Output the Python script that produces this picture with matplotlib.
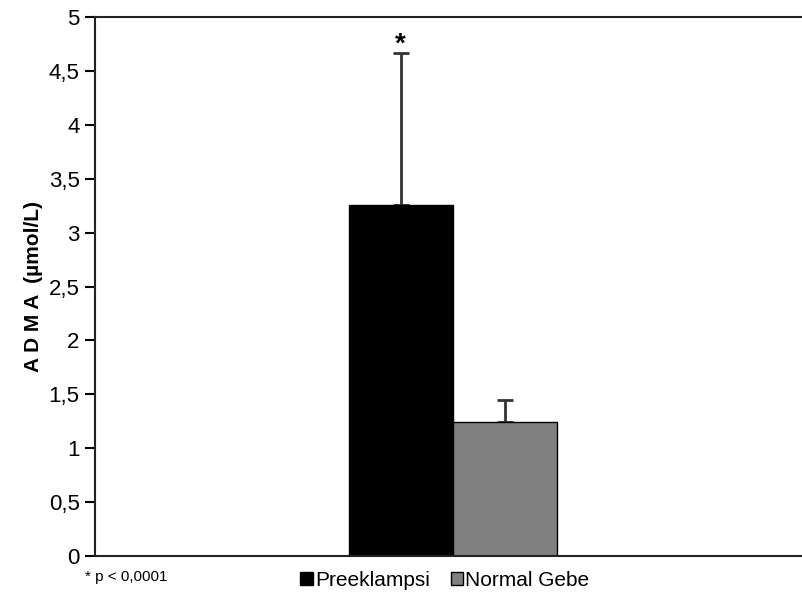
import matplotlib.pyplot as plt
from matplotlib import font_manager

groups = ['Preeklampsi', 'Normal Gebe']
means = [3.26, 1.24]
sd_upper = [1.41, 0.21]
colors = ['#000000', '#808080']
yticks = [0, 0.5, 1, 1.5, 2, 2.5, 3, 3.5, 4, 4.5, 5]
ytick_labels = ['0', '0,5', '1', '1,5', '2', '2,5', '3', '3,5', '4', '4,5', '5']

names = {f.name for f in font_manager.fontManager.ttflist}
narrow = 'Liberation Sans Narrow' if 'Liberation Sans Narrow' in names else 'Liberation Sans'
plt.rcParams['font.family'] = [narrow, 'DejaVu Sans']

fig = plt.figure(figsize=(8.03, 6.03), dpi=100)
ax = fig.add_axes([95 / 803, 1 - 556 / 603, 1 - 95 / 803, (556 - 17) / 603])

x = [0, 1]
ax.bar(x, means, width=1.0, color=colors, edgecolor='#000000', linewidth=1.0, zorder=2)
ax.errorbar(x, means, yerr=[[0, 0], sd_upper], fmt='none', ecolor='#333333',
            elinewidth=2, capsize=6, capthick=2, zorder=1)
ax.text(0, 4.62, '*', ha='center', va='bottom', fontsize=20, fontweight='bold')

ax.set_xlim(-2.94, 3.87)
ax.set_ylim(0, 5)
ax.set_yticks(yticks)
ax.set_yticklabels(ytick_labels, fontsize=16)
ax.set_xticks([])
ax.spines['right'].set_visible(False)
for s in ['left', 'top', 'bottom']:
    ax.spines[s].set_linewidth(1.5)
    ax.spines[s].set_color('#222222')
ax.tick_params(axis='y', direction='out', length=7, width=1.5, pad=4)
ax.set_ylabel('A D M A  (µmol/L)', fontsize=15, fontweight='bold',
              family=['Liberation Sans', 'DejaVu Sans'], labelpad=4)

handles = [plt.Rectangle((0, 0), 1, 1, facecolor=c, edgecolor='#000000') for c in colors]
fig.legend(handles, groups, loc='center', bbox_to_anchor=(445 / 803, 1 - 580 / 603),
           ncol=2, frameon=False, fontsize=15, handlelength=0.6, handleheight=0.6,
           handletextpad=0.1, columnspacing=1.0)
fig.text(85 / 803, 1 - 577 / 603, '* p < 0,0001', fontsize=11, va='center', ha='left')

fig.savefig('out.png', dpi=100)
